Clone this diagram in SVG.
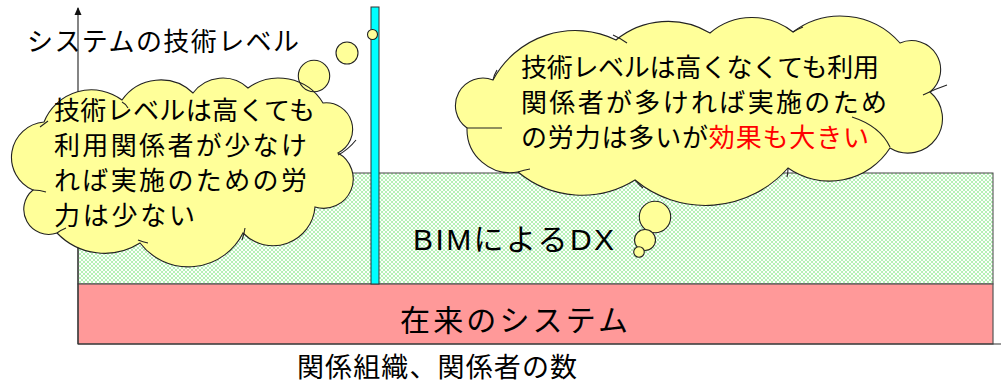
<svg xmlns="http://www.w3.org/2000/svg" width="1001" height="383" viewBox="0 0 1001 383">
<style>
.jp{font-family:"Noto Sans CJK JP","Noto Sans CJK SC",sans-serif;fill:#000}
.lat{font-family:"Liberation Sans","Noto Sans CJK JP",sans-serif;fill:#000}
.cloud{fill:#ffff99;stroke:#222;stroke-width:1.1}
.cfill{fill:#ffff99;stroke:none}
.cline{fill:none;stroke:#222;stroke-width:1.1}
.axis{stroke:#333;stroke-width:1.2;fill:none}
</style>
<defs>
<pattern id="dots" width="4" height="4" patternUnits="userSpaceOnUse">
<rect width="4" height="4" fill="#a8f0a8"/>
<circle cx="0" cy="0" r="1.2" fill="#fff"/>
<circle cx="4" cy="0" r="1.2" fill="#fff"/>
<circle cx="0" cy="4" r="1.2" fill="#fff"/>
<circle cx="4" cy="4" r="1.2" fill="#fff"/>
<circle cx="2" cy="2" r="1.2" fill="#fff"/>
</pattern>
<marker id="arr" markerWidth="8" markerHeight="8" refX="7" refY="4" orient="auto" markerUnits="userSpaceOnUse">
<path d="M0,0.5 L8,4 L0,7.5 Z" fill="#111"/>
</marker>
</defs>

<g id="layer-bim">
<rect x="78" y="173" width="915" height="111" fill="url(#dots)" stroke="#444" stroke-width="1"/>
<text class="lat" x="413" y="250" font-size="30" textLength="201" lengthAdjust="spacing">BIMによるDX</text>
</g>

<g id="layer-legacy">
<rect x="78" y="284" width="915" height="60" fill="#ff9999" stroke="#555" stroke-width="1.2"/>
<text class="jp" x="400" y="331" font-size="30" textLength="228" lengthAdjust="spacing">在来のシステム</text>
</g>

<g id="bar">
<rect x="371" y="7" width="8" height="277" fill="#00ffff" stroke="#333" stroke-width="1"/>
</g>

<g id="connectors">
<line class="axis" x1="78" y1="344" x2="78" y2="8" marker-end="url(#arr)"/>
<line class="axis" x1="78" y1="344" x2="1001" y2="344"/>
</g>

<g id="axis-labels">
<text class="jp" x="27" y="51" font-size="26" textLength="272" lengthAdjust="spacing">システムの技術レベル</text>
<text class="jp" x="297" y="377" font-size="27" textLength="280" lengthAdjust="spacing">関係組織、関係者の数</text>
</g>

<g id="cloud-left">
<circle class="cfill" cx="314" cy="76" r="15.7"/>
<path class="cloud" d="M44,122 A51,51 0 0 1 122,100 A47,47 0 0 1 193,93 A37,37 0 0 1 248,88 A52,52 0 0 1 323,103 A26.5,26.5 0 0 1 338,153 A29.5,29.5 0 0 1 315,207 A42,42 0 0 1 243,233 A61,61 0 0 1 140,243 A66,66 0 0 1 57,233 A25,25 0 0 1 33,190 A35.5,35.5 0 0 1 44,122 Z"/>
<path class="cline" d="M338,155 Q348,150 356,140 M245,228 Q244,235 242,240 M138,240 Q143,242 148,243 M57,233 Q61,230 66,228 M33,190 Q40,190 46,192 M40,127 Q44,124 48,121 M122,102 Q126,104 128,108"/>
<circle class="cline" cx="314" cy="76" r="15.7"/>
<circle class="cloud" cx="347" cy="53" r="11"/>
<circle class="cloud" cx="372.5" cy="34.5" r="5"/>
<text class="jp" font-size="26" x="54">
<tspan x="54" y="120" textLength="261" lengthAdjust="spacing">技術レベルは高くても</tspan>
<tspan x="54" y="155" textLength="253" lengthAdjust="spacing">利用関係者が少なけ</tspan>
<tspan x="54" y="190" textLength="253" lengthAdjust="spacing">れば実施のための労</tspan>
<tspan x="54" y="225" textLength="141" lengthAdjust="spacing">力は少ない</tspan>
</text>
</g>

<g id="cloud-right">
<path class="cloud" d="M493,80 A93,93 0 0 1 616,40 A82,82 0 0 1 710,33 A65,65 0 0 1 793,32 A79,79 0 0 1 900,43 A29,29 0 0 1 930,92 A34.5,34.5 0 0 1 890,148 A72,72 0 0 1 788,168 A110,110 0 0 1 635,180 A100,100 0 0 1 518,172 A43.5,43.5 0 0 1 467,128 A27.5,27.5 0 0 1 493,80 Z"/>
<path class="cline" d="M518,172 Q524,170 530,169 M635,180 Q639,185 643,188 M788,168 Q788,173 787,177 M923,95 Q935,89 947,85 M852,117 Q880,126 890,147 M502,128 Q484,128 467,128 M493,80 Q494,75 497,70 M627,43 Q620,38 613,35 M793,32 Q798,29 803,27"/>
<circle class="cloud" cx="655" cy="217" r="15.7"/>
<circle class="cloud" cx="645" cy="240" r="10.5"/>
<circle class="cloud" cx="639" cy="252" r="5.3"/>
<text class="jp" font-size="26">
<tspan x="521" y="77" textLength="358" lengthAdjust="spacing">技術レベルは高くなくても利用</tspan>
<tspan x="521" y="112" textLength="366" lengthAdjust="spacing">関係者が多ければ実施のため</tspan>
</text>
<text class="jp" font-size="26" x="521" y="147" textLength="348" lengthAdjust="spacing">の労力は多いが<tspan fill="#ff0000">効果も大きい</tspan></text>
</g>
</svg>
